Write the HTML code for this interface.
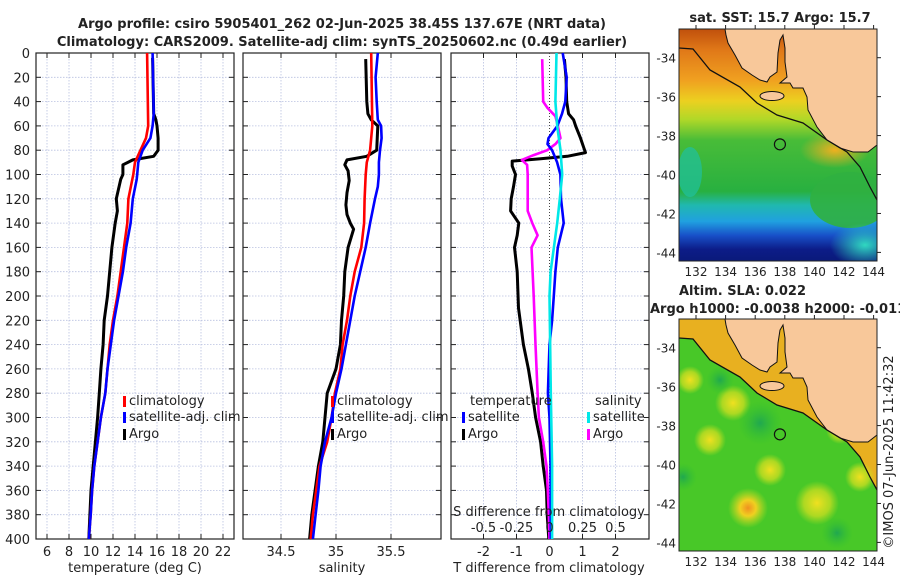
<!DOCTYPE html>
<html><head><meta charset="utf-8">
<style>
html,body{margin:0;padding:0;background:#fff;}
svg{display:block;font-family:"DejaVu Sans","Liberation Sans",sans-serif;}
</style></head>
<body>
<svg id="fig" width="900" height="580" viewBox="0 0 900 580" xmlns="http://www.w3.org/2000/svg">
<defs>
<linearGradient id="sstg" gradientUnits="userSpaceOnUse" x1="0" y1="29" x2="0" y2="261">
<stop offset="0" stop-color="#c0500c"/>
<stop offset="0.09" stop-color="#e07818"/>
<stop offset="0.22" stop-color="#f0a020"/>
<stop offset="0.31" stop-color="#ecd020"/>
<stop offset="0.39" stop-color="#b0d828"/>
<stop offset="0.48" stop-color="#48bc38"/>
<stop offset="0.70" stop-color="#28b040"/>
<stop offset="0.76" stop-color="#20b8b0"/>
<stop offset="0.83" stop-color="#20a0e0"/>
<stop offset="0.89" stop-color="#1850c8"/>
<stop offset="0.95" stop-color="#0c1c88"/>
<stop offset="1" stop-color="#0a1a7a"/>
</linearGradient>
<radialGradient id="blobY"><stop offset="0" stop-color="#f0e020"/><stop offset="0.6" stop-color="#d8e020" stop-opacity="0.7"/><stop offset="1" stop-color="#c0e020" stop-opacity="0"/></radialGradient>
<radialGradient id="blobO"><stop offset="0" stop-color="#f09020"/><stop offset="0.4" stop-color="#f0d020"/><stop offset="1" stop-color="#c0e020" stop-opacity="0"/></radialGradient>
<radialGradient id="blobG"><stop offset="0" stop-color="#20a850"/><stop offset="1" stop-color="#30c030" stop-opacity="0"/></radialGradient>
<radialGradient id="blobC"><stop offset="0" stop-color="#30d8c0"/><stop offset="1" stop-color="#30d8c0" stop-opacity="0"/></radialGradient>
<radialGradient id="blobOr"><stop offset="0" stop-color="#f0b020"/><stop offset="1" stop-color="#f0b020" stop-opacity="0"/></radialGradient>
<clipPath id="clipTop"><rect x="679" y="29" width="198" height="232"/></clipPath>
<clipPath id="clipBot"><rect x="679" y="319" width="198" height="232"/></clipPath>
</defs>
<g id="layer"></g>
</svg>
<script>
// ---------- data ----------
const tClimDepth = [0,60,70,80,90,100,120,140,160,180,200,220,240,260,280,300,320,340,360,380,400];
const tClim      = [15.1,15.2,15.0,14.5,14.0,13.85,13.4,13.3,13.0,12.7,12.4,12.0,11.7,11.5,11.3,10.9,10.6,10.3,10.1,9.97,9.8];
const tSatDepth  = [0,50,60,70,80,90,100,104,120,140,160,180,200,220,240,260,280,300,320,340,360,380,400];
const tSat       = [15.6,15.7,15.6,15.4,14.7,14.3,14.2,14.15,13.8,13.6,13.2,12.9,12.5,12.1,11.8,11.5,11.3,10.9,10.6,10.3,10.1,9.97,9.8];
const tArgoDepth = [4,50,55,60,70,80,85,88,92,100,104,120,130,140,160,180,200,220,240,260,280,300,320,340,360,380,400];
const tArgo      = [15.6,15.7,15.9,16.0,16.1,16.1,15.7,13.8,12.9,12.9,12.7,12.3,12.4,12.2,11.9,11.7,11.5,11.2,11.1,10.9,10.75,10.6,10.4,10.2,10.0,9.9,9.8];

const sClimDepth = [0,60,80,90,100,120,140,160,180,200,220,240,260,280,300,320,340,360,380,400];
const sClim      = [35.32,35.33,35.31,35.28,35.27,35.26,35.255,35.23,35.17,35.13,35.1,35.06,35.04,34.99,34.96,34.92,34.85,34.82,34.79,34.77];
const sSatDepth  = [0,20,40,55,60,70,80,90,100,110,120,140,160,180,200,220,240,260,280,300,320,340,360,380,400];
const sSat       = [35.38,35.36,35.37,35.38,35.41,35.415,35.4,35.39,35.39,35.38,35.355,35.31,35.27,35.22,35.17,35.13,35.09,35.05,35.0,34.96,34.9,34.86,34.84,34.815,34.79];
const sArgoDepth = [5,40,50,55,60,80,85,88,92,97,105,115,125,133,140,145,160,180,200,220,240,260,280,300,320,340,360,380,400];
const sArgo      = [35.27,35.28,35.29,35.32,35.38,35.37,35.28,35.1,35.08,35.11,35.12,35.1,35.09,35.1,35.13,35.16,35.11,35.08,35.07,35.05,35.04,35.0,34.92,34.9,34.88,34.84,34.81,34.78,34.76];

const dTSatDepth = [0,20,40,50,60,70,75,80,90,100,120,140,160,180,200,220,240,280,300,340,400];
const dTSat      = [0.4,0.52,0.48,0.38,0.24,-0.03,-0.06,0.08,0.23,0.33,0.35,0.43,0.25,0.18,0.13,0.08,0.0,-0.05,0.0,0.03,0.04];
const dTArgoDepth= [5,20,40,50,55,60,70,78,82,85,87,89,93,100,110,120,130,140,150,160,180,210,240,260,280,300,320,340,360,380,400];
const dTArgo     = [0.45,0.5,0.52,0.58,0.73,0.79,0.94,1.04,1.09,0.54,-0.27,-1.13,-1.13,-1.03,-1.09,-1.16,-1.18,-0.93,-0.98,-1.06,-0.98,-0.94,-0.79,-0.64,-0.52,-0.42,-0.27,-0.19,-0.09,-0.07,-0.02];
const dSSatDepth = [0,40,60,80,100,120,140,160,180,200,280,340,400];
const dSSat      = [0.053,0.045,0.058,0.083,0.096,0.078,0.058,0.033,0.008,0.0,0.01,0.02,0.02];
const dSArgoDepth= [5,40,45,52,60,70,75,80,84,88,92,100,130,140,150,160,200,240,280,300,320,340,360,380,400];
const dSArgo     = [-0.055,-0.048,-0.017,0.045,0.063,0.083,0.045,-0.017,-0.12,-0.21,-0.17,-0.165,-0.165,-0.13,-0.09,-0.136,-0.12,-0.106,-0.09,-0.08,-0.048,-0.023,-0.013,-0.005,0.0];

const depthTicks = [0,20,40,60,80,100,120,140,160,180,200,220,240,260,280,300,320,340,360,380,400];
const tTicks = [6,8,10,12,14,16,18,20,22];
const sTicks = [34.5,35,35.5];
const sTickLabels = ["34.5","35","35.5"];
const dTTicks = [-2,-1,0,1,2];
const dSTicks = [-0.5,-0.25,0,0.25,0.5];
const dSTickLabels = ["-0.5","-0.25","0","0.25","0.5"];
const latTicks = [-34,-36,-38,-40,-42,-44];
const lonTicks = [132,134,136,138,140,142,144];
const argoLon = 137.67, argoLat = -38.45;

// ---------- axes ----------
const PY0 = 53, PY1 = 539;
const yD = d => PY0 + d * (PY1 - PY0) / 400;
const xT = t => 36 + (t - 5) * 11;
const xS = s => 336 + (s - 35) * 110;
const xDT = d => 549.5 + d * 33;
const xDS = s => 549.5 + s * 132;
const mapX = lon => 696 + (lon - 132) * 14.8;
const mapYTop = lat => 57.7 + (-34 - lat) * 19.47;
const mapYBot = lat => 347.7 + (-34 - lat) * 19.47;

const NS = "http://www.w3.org/2000/svg";
const layer = document.getElementById('layer');
function mk(tag, attrs, parent) {
  const el = document.createElementNS(NS, tag);
  for (const k in attrs) el.setAttribute(k, attrs[k]);
  (parent || layer).appendChild(el);
  return el;
}
function txt(x, y, s, size, anchor, weight, parent) {
  const t = mk('text', {x: x, y: y, 'font-size': size, 'text-anchor': anchor || 'middle', 'font-weight': weight || 'normal', fill: '#222'}, parent);
  t.textContent = s;
  return t;
}

const ttl = mk('g', {});


txt(342, 28, "Argo profile: csiro 5905401_262 02-Jun-2025 38.45S 137.67E (NRT data)", 13, 'middle', 'bold', ttl);
txt(342, 46, "Climatology: CARS2009. Satellite-adj clim: synTS_20250602.nc (0.49d earlier)", 13, 'middle', 'bold', ttl);

function panel(name, x0, x1, vgrid) {
  const g = mk('g', {});
  
  
  depthTicks.forEach(d => {
    if (d > 0 && d < 400) mk('line', {x1: x0, x2: x1, y1: yD(d), y2: yD(d), stroke: '#b8c0e0', 'stroke-width': 0.8, 'stroke-dasharray': '1.5,1.5'}, g);
    mk('line', {x1: x0, x2: x0 + 5, y1: yD(d), y2: yD(d), stroke: '#222', 'stroke-width': 1}, g);
    mk('line', {x1: x1 - 5, x2: x1, y1: yD(d), y2: yD(d), stroke: '#222', 'stroke-width': 1}, g);
  });
  vgrid.forEach(x => {
    mk('line', {x1: x, x2: x, y1: PY0, y2: PY1, stroke: '#b8c0e0', 'stroke-width': 0.8, 'stroke-dasharray': '1.5,1.5'}, g);
    mk('line', {x1: x, x2: x, y1: PY1 - 5, y2: PY1, stroke: '#222', 'stroke-width': 1}, g);
    mk('line', {x1: x, x2: x, y1: PY0, y2: PY0 + 5, stroke: '#222', 'stroke-width': 1}, g);
  });
  mk('rect', {x: x0, y: PY0, width: x1 - x0, height: PY1 - PY0, fill: 'none', stroke: '#222', 'stroke-width': 1.2}, g);
  return g;
}
function line(g, name, xs, ds, fx, color, w) {
  const pts = xs.map((v, i) => fx(v).toFixed(1) + ',' + yD(ds[i]).toFixed(1)).join(' ');
  const p = mk('polyline', {points: pts, fill: 'none', stroke: color, 'stroke-width': w || 2.6, 'stroke-linejoin': 'round'}, g);
  
  
}
function legendEntry(g, name, x, y, color, label) {
  const e = mk('g', {}, g);
  
  
  mk('rect', {x: x, y: y - 9, width: 3, height: 11, fill: color}, e);
  txt(x + 6, y, label, 13, 'start', 'normal', e);
}

const p1 = panel('temperature-panel', 36, 234, tTicks.map(xT));
line(p1, 'temp-argo-line', tArgo, tArgoDepth, xT, '#000', 3);
line(p1, 'temp-climatology-line', tClim, tClimDepth, xT, '#ff0000');
line(p1, 'temp-satellite-line', tSat, tSatDepth, xT, '#0000ff');
const yax = mk('g', {});


depthTicks.forEach(d => txt(30, yD(d) + 5, String(d), 13, 'end', 'normal', yax));
const xa1 = mk('g', {});


tTicks.forEach(t => txt(xT(t), 556, String(t), 13, 'middle', 'normal', xa1));
txt(135, 572, "temperature (deg C)", 13, 'middle', 'normal', xa1);
const lg1 = mk('g', {});


legendEntry(lg1, 'legend-climatology', 123, 405, '#ff0000', 'climatology');
legendEntry(lg1, 'legend-satellite-adj', 123, 421, '#0000ff', 'satellite-adj. clim');
legendEntry(lg1, 'legend-argo', 123, 438, '#000', 'Argo');

const p2 = panel('salinity-panel', 243, 441, sTicks.map(xS));
line(p2, 'sal-argo-line', sArgo, sArgoDepth, xS, '#000', 3);
line(p2, 'sal-climatology-line', sClim, sClimDepth, xS, '#ff0000');
line(p2, 'sal-satellite-line', sSat, sSatDepth, xS, '#0000ff');
const xa2 = mk('g', {});


sTicks.forEach((s, i) => txt(xS(s), 556, sTickLabels[i], 13, 'middle', 'normal', xa2));
txt(342, 572, "salinity", 13, 'middle', 'normal', xa2);
const lg2 = mk('g', {});


legendEntry(lg2, 'legend-climatology-s', 331, 405, '#ff0000', 'climatology');
legendEntry(lg2, 'legend-satellite-adj-s', 331, 421, '#0000ff', 'satellite-adj. clim');
legendEntry(lg2, 'legend-argo-s', 331, 438, '#000', 'Argo');

const p3 = panel('difference-panel', 451, 649, dTTicks.filter(d => d !== 0).map(xDT));
mk('line', {x1: xDT(0), x2: xDT(0), y1: PY0, y2: PY1, stroke: '#444', 'stroke-width': 1, 'stroke-dasharray': '1,2'}, p3);
line(p3, 'dT-argo-line', dTArgo, dTArgoDepth, xDT, '#000', 3);
line(p3, 'dS-argo-line', dSArgo, dSArgoDepth, xDS, '#ff00ff');
line(p3, 'dT-satellite-line', dTSat, dTSatDepth, xDT, '#0000ff');
line(p3, 'dS-satellite-line', dSSat, dSSatDepth, xDS, '#00e8e8');
const xa3 = mk('g', {});


dTTicks.forEach(d => txt(xDT(d), 556, String(d), 13, 'middle', 'normal', xa3));
txt(549, 572, "T difference from climatology", 13, 'middle', 'normal', xa3);
const xa3s = mk('g', {});


txt(549, 516, "S difference from climatology", 13, 'middle', 'normal', xa3s);
dSTicks.forEach((s, i) => txt(xDS(s), 532, dSTickLabels[i], 13, 'middle', 'normal', xa3s));
const lg3 = mk('g', {});


txt(470, 405, "temperature", 13, 'start', 'normal', lg3);
txt(595, 405, "salinity", 13, 'start', 'normal', lg3);
legendEntry(lg3, 'legend-T-satellite', 462, 421, '#0000ff', 'satellite');
legendEntry(lg3, 'legend-T-argo', 462, 438, '#000', 'Argo');
legendEntry(lg3, 'legend-S-satellite', 587, 421, '#00e8e8', 'satellite');
legendEntry(lg3, 'legend-S-argo', 587, 438, '#ff00ff', 'Argo');

// ---------- maps ----------
const coast = [[725,29],[726,35],[728,43],[735,55],[742,68],[752,75],[760,80],[767,82],[770,77],[777,72],[778,53],[780,40],[783,35],[785,48],[785,62],[787,77],[780,83],[790,83],[793,88],[803,88],[807,97],[808,110],[817,127],[827,140],[840,148],[853,152],[868,152],[877,145],[877,29]];
const shelf = [[679,48],[693,49],[710,70],[740,87],[757,103],[777,115],[803,123],[827,140],[847,152],[860,167],[870,187],[877,200]];
function drawMap(name, dy, clip, ymap, isSST) {
  const g = mk('g', {'clip-path': 'url(#' + clip + ')'});
  
  
  const bandPts = 'M679,' + (29 + dy) + ' L679,' + (48 + dy) + ' L693,' + (49 + dy) + ' L710,' + (70 + dy) + ' L740,' + (87 + dy) + ' L757,' + (103 + dy) + ' L777,' + (115 + dy) + ' L803,' + (123 + dy) + ' L827,' + (140 + dy) + ' L847,' + (152 + dy) + ' L860,' + (167 + dy) + ' L870,' + (187 + dy) + ' L877,' + (200 + dy) + ' L877,' + (29 + dy) + ' Z';
  if (isSST) {
    mk('rect', {x: 679, y: 29 + dy, width: 198, height: 232, fill: 'url(#sstg)'}, g);
    mk('ellipse', {cx: 835, cy: 150, rx: 35, ry: 18, fill: 'url(#blobOr)'}, g);
    mk('ellipse', {cx: 850, cy: 200, rx: 40, ry: 28, fill: '#30b040', opacity: 0.9}, g);
    mk('ellipse', {cx: 865, cy: 245, rx: 35, ry: 22, fill: 'url(#blobC)'}, g);
    mk('ellipse', {cx: 690, cy: 172, rx: 12, ry: 25, fill: '#20c0a0', opacity: 0.7}, g);
  } else {
    mk('rect', {x: 679, y: 29 + dy, width: 198, height: 232, fill: '#48c828'}, g);
    mk('path', {d: bandPts, fill: '#e8b020'}, g);
    [[733,403,18,'blobY'],[770,470,16,'blobY'],[748,508,20,'blobO'],[817,503,22,'blobY'],[710,440,16,'blobY'],[860,477,15,'blobY'],[690,380,14,'blobY'],[840,430,14,'blobY']].forEach(b => mk('circle', {cx: b[0], cy: b[1], r: b[2], fill: 'url(#' + b[3] + ')'}, g));
    [[760,423,22],[837,533,16],[683,477,14],[720,380,14]].forEach(b => mk('circle', {cx: b[0], cy: b[1], r: b[2], fill: 'url(#blobG)'}, g));
  }
  mk('polygon', {points: coast.map(p => p[0] + ',' + (p[1] + dy)).join(' '), fill: '#f8c89a', stroke: '#111', 'stroke-width': 1}, g);
  mk('ellipse', {cx: 772, cy: 96 + dy, rx: 12, ry: 4.5, fill: '#f8c89a', stroke: '#111', 'stroke-width': 1}, g);
  mk('polyline', {points: shelf.map(p => p[0] + ',' + (p[1] + dy)).join(' '), fill: 'none', stroke: '#111', 'stroke-width': 1.3}, g);
  const c = mk('circle', {cx: mapX(argoLon), cy: ymap(argoLat), r: 5.5, fill: 'none', stroke: '#111', 'stroke-width': 1.2}, g);
  
  
  const ax = mk('g', {});
  
  
  mk('rect', {x: 679, y: 29 + dy, width: 198, height: 232, fill: 'none', stroke: '#222', 'stroke-width': 1}, ax);
  latTicks.forEach(l => {
    txt(676, ymap(l) + 5, String(l), 12, 'end', 'normal', ax);
    mk('line', {x1: 877, x2: 881, y1: ymap(l), y2: ymap(l), stroke: '#222'}, ax);
  });
  lonTicks.forEach(l => {
    txt(mapX(l), 276 + dy, String(l), 12, 'middle', 'normal', ax);
    mk('line', {x1: mapX(l), x2: mapX(l), y1: 29 + dy, y2: 25 + dy, stroke: '#222'}, ax);
  });
}
drawMap('sst-map', 0, 'clipTop', mapYTop, true);
drawMap('sla-map', 290, 'clipBot', mapYBot, false);
const mt = mk('g', {});


txt(780, 22, "sat. SST: 15.7 Argo: 15.7", 13, 'middle', 'bold', mt);
txt(679, 295, "Altim. SLA: 0.022", 13, 'start', 'bold', mt);
txt(650, 313, "Argo h1000: -0.0038 h2000: -0.011", 13, 'start', 'bold', mt);
const cr = txt(0, 0, "\u00A9IMOS 07-Jun-2025 11:42:32", 13, 'middle', 'normal');
cr.setAttribute('transform', 'translate(893,452) rotate(-90)');


</script>
</body></html>
